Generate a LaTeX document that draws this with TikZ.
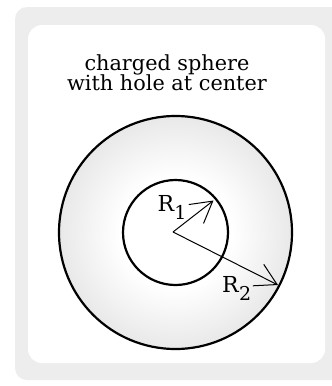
\documentclass[tikz,border=0pt]{standalone}
\usepackage{fontspec}
\setmainfont{DejaVu Serif}
\usetikzlibrary{arrows.meta}
\pgfdeclareradialshading{ringshade}{\pgfpoint{0bp}{0bp}}{color(0bp)=(white); color(12bp)=(white); color(50bp)=(black!26)}
\tikzset{
  rim/.style={draw=black, line width=2.2pt},
  radius arrow/.style={draw=black, line width=1pt, -{Straight Barb[length=21pt,width=24pt,line width=1pt]}},
  lbl/.style={font=\fontsize{22}{22}\selectfont, inner sep=0pt, anchor=base west},
  ttl/.style={font=\fontsize{20.8}{22}\selectfont, inner sep=0pt, align=center}
}
\newcommand{\subsc}[1]{\kern0.3pt\raisebox{-7.6pt}{\fontsize{19}{19}\selectfont #1}}
\begin{document}
\begin{tikzpicture}[x=1pt,y=-1pt]
\useasboundingbox (0,0) rectangle (332,386);
\fill[white] (0,0) rectangle (332,386);
\fill[black!7, rounded corners=12pt] (15,7) rectangle (345,380);
\fill[white, rounded corners=14pt] (28,25) rectangle (325,363);
\node[ttl] (title) at (167,72.5) {charged sphere\\[-2pt]with hole at center};
\coordinate (c) at (175.5,232.5);
\shade[shading=ringshade] (c) circle[radius=116.5];
\draw[rim] (c) circle[radius=116.5];
\fill[white] (c) circle[radius=52.5];
\draw[rim] (c) circle[radius=52.5];
\coordinate (o) at (173,232);
\coordinate (p1) at (213.5,200.5);
\coordinate (p2) at (278,285);
\draw[radius arrow] (o) -- (p1);
\draw[radius arrow] (o) -- (p2);
\node[lbl] (r1) at (157.3,211.7) {R\subsc{1}};
\node[lbl] (r2) at (222,292.7) {R\subsc{2}};
\end{tikzpicture}
\end{document}
